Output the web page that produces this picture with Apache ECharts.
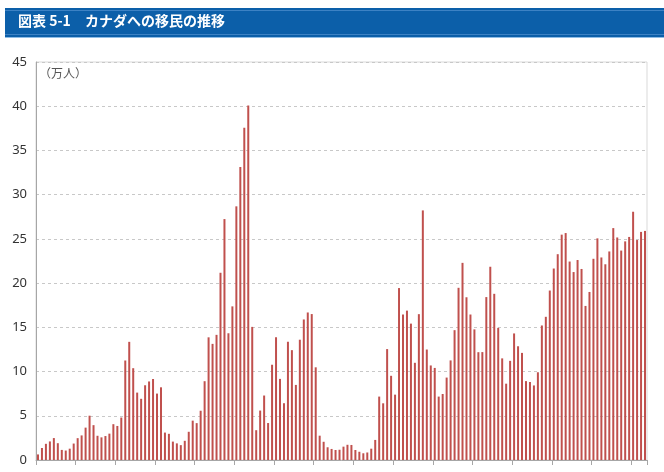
<!DOCTYPE html>
<html>
<head>
<meta charset="utf-8">
<script src="https://cdn.jsdelivr.net/npm/echarts@6/dist/echarts.min.js"></script>
<style>
  html, body { margin:0; padding:0; background:#fff; }
  #chart { width:664px; height:472px; }
</style>
</head>
<body>
<div id="chart"></div>
<script type="text/javascript">
  // カナダへの移民数（万人）1860-2013
  var years = [];
  for (var y = 1860; y <= 2013; y++) { years.push(String(y)); }

  var v1860s = [0.63, 1.36, 1.83, 2.10, 2.48, 1.90, 1.14, 1.07, 1.28, 1.86];
  var v1870s = [2.47, 2.78, 3.66, 5.01, 3.94, 2.74, 2.56, 2.71, 2.98, 4.05];
  var v1880s = [3.85, 4.80, 11.25, 13.36, 10.38, 7.62, 6.92, 8.45, 8.88, 9.16];
  var v1890s = [7.51, 8.22, 3.10, 2.96, 2.08, 1.88, 1.68, 2.17, 3.19, 4.45];
  var v1900s = [4.17, 5.57, 8.91, 13.87, 13.13, 14.15, 21.17, 27.24, 14.33, 17.37];
  var v1910s = [28.68, 33.13, 37.58, 40.09, 15.05, 3.37, 5.59, 7.29, 4.18, 10.77];
  var v1920s = [13.88, 9.17, 6.42, 13.37, 12.42, 8.49, 13.60, 15.89, 16.68, 16.50];
  var v1930s = [10.48, 2.75, 2.06, 1.44, 1.25, 1.13, 1.16, 1.51, 1.72, 1.70];
  var v1940s = [1.13, 0.93, 0.76, 0.85, 1.28, 2.27, 7.17, 6.41, 12.54, 9.52];
  var v1950s = [7.39, 19.44, 16.45, 16.89, 15.42, 10.99, 16.49, 28.22, 12.49, 10.69];
  var v1960s = [10.41, 7.17, 7.46, 9.32, 11.26, 14.68, 19.47, 22.29, 18.40, 16.45];
  var v1970s = [14.77, 12.19, 12.20, 18.42, 21.85, 18.79, 14.94, 11.49, 8.63, 11.21];
  var v1980s = [14.31, 12.86, 12.11, 8.92, 8.82, 8.43, 9.92, 15.21, 16.19, 19.16];
  var v1990s = [21.65, 23.27, 25.48, 25.66, 22.44, 21.25, 22.61, 21.60, 17.42, 19.00];
  var v2000s = [22.75, 25.06, 22.90, 22.13, 23.58, 26.22, 25.16, 23.68, 24.72, 25.22];
  var v2010s = [28.07, 24.87, 25.79, 25.90];

  var values = [].concat(v1860s, v1870s, v1880s, v1890s, v1900s, v1910s, v1920s,
                         v1930s, v1940s, v1950s, v1960s, v1970s, v1980s, v1990s,
                         v2000s, v2010s);

  var yTicks = { min: 0, max: 45, interval: 5 };

  var myChart = echarts.init(document.getElementById('chart'));
  myChart.setOption({
    animation: false,
    graphic: [
      {
        type: 'rect',
        shape: { x: 5, y: 8, width: 659, height: 29 },
        style: { fill: '#0c5fa9' }
      },
      {
        type: 'rect',
        shape: { x: 5, y: 10, width: 659, height: 1 },
        style: { fill: '#3d82c4' }
      },
      {
        type: 'rect',
        shape: { x: 5, y: 34, width: 659, height: 1 },
        style: { fill: '#3d82c4' }
      },
      {
        type: 'rect',
        shape: { x: 5, y: 37, width: 659, height: 1 },
        style: { fill: '#8fbde6' }
      },
      {
        type: 'text',
        left: 18,
        top: 14,
        style: {
          text: '図表 5-1　カナダへの移民の推移',
          fill: '#ffffff',
          font: 'bold 14px "Noto Sans CJK JP", sans-serif'
        }
      },
      {
        type: 'text',
        left: 39,
        top: 67,
        style: {
          text: '（万人）',
          fill: '#555555',
          font: '12px "Noto Sans CJK JP", sans-serif'
        }
      }
    ],
    grid: {
      left: 36,
      right: 17,
      top: 62,
      bottom: 12,
      show: true,
      borderColor: '#d9d9d9',
      borderWidth: 1
    },
    xAxis: {
      type: 'category',
      data: years,
      boundaryGap: true,
      axisLine: { lineStyle: { color: '#a6a6a6', width: 1 } },
      axisTick: { show: true, interval: 9, length: 5, lineStyle: { color: '#a6a6a6' } },
      axisLabel: { show: false },
      splitLine: { show: false }
    },
    yAxis: {
      type: 'value',
      min: yTicks.min,
      max: yTicks.max,
      interval: yTicks.interval,
      axisLine: { show: true, lineStyle: { color: '#a6a6a6', width: 1 } },
      axisTick: { show: false },
      axisLabel: {
        color: '#333333',
        fontSize: 13,
        margin: 9,
        fontFamily: '"Noto Sans", sans-serif'
      },
      splitLine: { lineStyle: { color: '#c8c8c8', type: [3, 3], width: 1 } }
    },
    series: [
      {
        name: '移民数',
        type: 'bar',
        data: values,
        barWidth: 2,
        itemStyle: { color: '#c0504d' }
      }
    ]
  });
</script>
</body>
</html>
